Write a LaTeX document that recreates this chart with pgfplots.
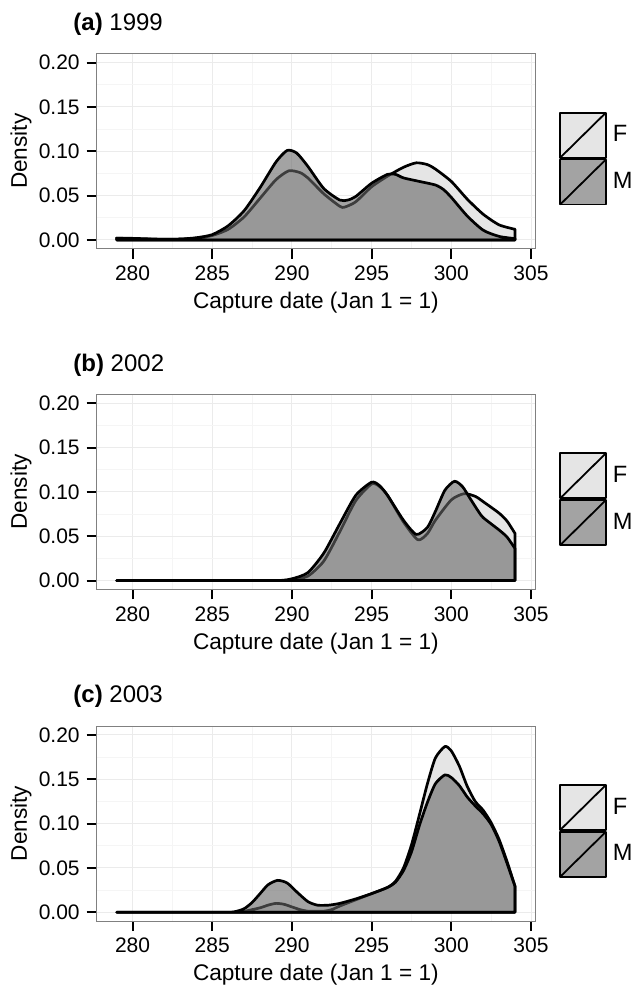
\documentclass[border=0pt]{standalone}
\usepackage{fontspec}
\setmainfont{Liberation Sans}
\usepackage{pgfplots}
\pgfplotsset{compat=1.18}

\definecolor{fcol}{gray}{0.90}
\definecolor{mcol}{gray}{0.40}

\pgfplotsset{
  panel/.style={
    scale only axis,
    width=219.15pt, height=97.5pt,
    anchor=north west,
    xmin=277.75, xmax=305.25,
    ymin=-0.01, ymax=0.21,
    xtick={280,285,...,305},
    ytick={0,0.05,...,0.2},
    minor xtick={282.5,287.5,...,302.5},
    minor ytick={0.025,0.075,...,0.2},
    minor tick length=0pt,
    grid=both,
    major grid style={color=black!8, line width=0.5pt},
    minor grid style={color=black!4, line width=0.35pt},
    axis line style={color=black!50, line width=0.5pt},
    tick style={black, line width=1pt},
    major tick length=5pt,
    tick align=outside,
    xtick pos=bottom, ytick pos=left,
    /pgf/number format/assume math mode=true,
    ticklabel style={font=\fontsize{10.5}{12}\selectfont},
    yticklabel style={/pgf/number format/.cd, fixed, fixed zerofill, precision=2},
    label style={font=\fontsize{11.3}{13}\selectfont},
    xlabel={Capture date (Jan 1 = 1)},
    ylabel={Density},
    xlabel style={at={(axis description cs:0.5,-0.277)}, anchor=center},
    ylabel style={at={(axis description cs:-0.1727,0.5)}, anchor=center},
    title style={at={(axis description cs:-0.054,1.09)}, anchor=west, yshift=0pt,
      inner sep=0pt, font=\fontsize{12}{14}\selectfont},
    legend image code/.code={
      \draw[##1, line width=0.9pt] (0pt,-11.25pt) rectangle (22.85pt,11.25pt);
      \draw[black, line width=0.9pt] (0pt,-11.25pt) -- (22.85pt,11.25pt);
    },
    legend style={at={(axis description cs:1.0554,0.7026)}, anchor=north west,
      draw=none, fill=none, inner sep=0pt, outer sep=0pt,
      row sep=0pt, column sep=3pt,
      nodes={inner sep=0pt, font=\fontsize{11.8}{13}\selectfont}},
    legend cell align=left,
  },
  fplot/.style={draw=black, fill=fcol, line width=1.35pt, line join=round, smooth, tension=0.4},
  mplot/.style={draw=black, fill=mcol, fill opacity=0.6, line width=1.35pt, line join=round, smooth, tension=0.4},
}

\begin{document}
\begin{tikzpicture}
\path[use as bounding box] (0,0) rectangle (316pt,-493.5pt);

% (a) 1999
\begin{axis}[panel, at={(48.35pt,-26.9pt)}, title={\textbf{(a)} 1999}]
\addplot[fplot] coordinates {
(279,0.002) (280,0.0015) (281,0.001) (282,0.0008) (283,0.001) (284,0.002)
(285,0.005) (286,0.012) (287,0.026) (288,0.047) (289,0.068) (289.8,0.078)
(290.5,0.076) (291,0.070) (292,0.052) (293,0.038) (293.3,0.037) (294,0.043)
(295,0.060) (296,0.072) (297,0.082) (297.8,0.087) (298.5,0.085) (299,0.080)
(300,0.066) (301,0.046) (302,0.029) (303,0.017) (304,0.012)
} \closedcycle;
\addplot[mplot] coordinates {
(279,0.002) (280,0.0018) (281,0.0012) (282,0.0008) (283,0.001) (284,0.0025)
(285,0.006) (286,0.016) (287,0.033) (288,0.059) (289,0.088) (289.7,0.101)
(290.3,0.098) (291,0.083) (292,0.058) (293,0.045) (293.5,0.045) (294,0.049)
(295,0.064) (296,0.074) (296.5,0.074) (297,0.070) (298,0.066) (299,0.062)
(299.5,0.057) (300,0.048) (301,0.027) (302,0.011) (303,0.004) (304,0.0015)
} \closedcycle;
\legend{F,M}
\end{axis}

% (b) 2002
\begin{axis}[panel, at={(48.35pt,-197.2pt)}, title={\textbf{(b)} 2002}]
\addplot[fplot] coordinates {
(279,0) (284,0) (289,0) (290,0.001) (291,0.005) (292,0.022) (293,0.055)
(294,0.090) (295,0.109) (295.5,0.106) (296,0.096) (297,0.066) (297.9,0.046)
(298.5,0.053) (299,0.068) (300,0.091) (300.8,0.098) (301.5,0.095) (302,0.089)
(303,0.076) (303.5,0.067) (304,0.053)
} \closedcycle;
\addplot[mplot] coordinates {
(279,0) (284,0) (289,0) (290,0.002) (291,0.009) (292,0.031) (293,0.064)
(294,0.096) (295,0.111) (295.5,0.107) (296,0.096) (297,0.068) (297.8,0.052)
(298.5,0.060) (299,0.078) (299.6,0.102) (300.2,0.112) (300.7,0.106) (301.2,0.092)
(301.7,0.078) (302,0.071) (303,0.057) (303.5,0.049) (304,0.036)
} \closedcycle;
\legend{F,M}
\end{axis}

% (c) 2003
\begin{axis}[panel, at={(48.35pt,-363.05pt)}, title={\textbf{(c)} 2003}]
\addplot[fplot] coordinates {
(279,0) (283,0) (286.5,0) (287,0.001) (288,0.005) (288.5,0.008) (289,0.010)
(289.5,0.009) (290,0.006) (290.5,0.003) (291,0.0012) (292,0.0012) (292.5,0.003)
(293,0.007) (294,0.014) (295,0.021) (296,0.028) (296.5,0.035) (297,0.050)
(297.5,0.076) (298,0.110) (298.5,0.145) (299,0.174) (299.6,0.187) (300,0.182)
(300.5,0.165) (301,0.142) (301.5,0.125) (302,0.115) (302.5,0.101) (303,0.082)
(303.5,0.057) (304,0.029)
} \closedcycle;
\addplot[mplot] coordinates {
(279,0) (283,0) (286,0) (286.5,0.001) (287,0.004) (287.5,0.011) (288,0.021)
(288.5,0.031) (289.1,0.036) (289.7,0.033) (290.3,0.023) (291,0.012) (291.6,0.008)
(292.3,0.008) (293,0.010) (294,0.015) (295,0.021) (296,0.028) (296.5,0.034)
(297,0.047) (297.5,0.068) (298,0.098) (298.5,0.124) (299,0.145) (299.6,0.155)
(300,0.152) (300.5,0.143) (301,0.130) (301.5,0.120) (302,0.111) (302.5,0.099)
(303,0.080) (303.5,0.055) (304,0.029)
} \closedcycle;
\legend{F,M}
\end{axis}
\end{tikzpicture}
\end{document}
